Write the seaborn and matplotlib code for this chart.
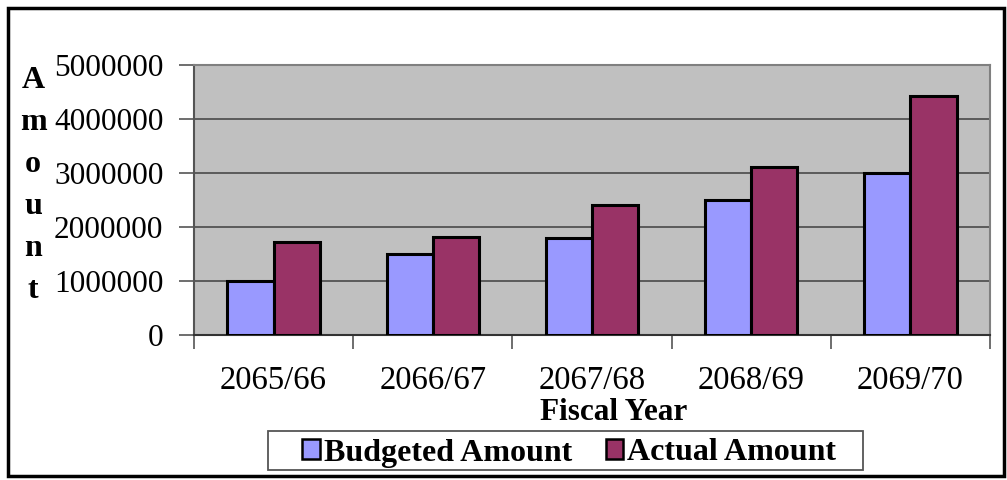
import matplotlib
matplotlib.use("Agg")
import matplotlib.pyplot as plt
import seaborn as sns
import pandas as pd
from matplotlib.patches import Rectangle, Patch

fiscal_years = ["2065/66", "2066/67", "2067/68", "2068/69", "2069/70"]
budgeted = [1000000, 1500000, 1800000, 2500000, 3000000]
actual = [1730000, 1810000, 2410000, 3110000, 4430000]
series_names = ["Budgeted Amount", "Actual Amount"]
series_colors = ["#9999FF", "#993366"]

df = pd.DataFrame({
    "Fiscal Year": fiscal_years * 2,
    "Amount": budgeted + actual,
    "Series": [series_names[0]] * len(fiscal_years) + [series_names[1]] * len(fiscal_years),
})

sns.set_theme(style="white")
plt.rcParams["font.family"] = ["Liberation Serif", "DejaVu Serif"]
plt.rcParams["text.color"] = "black"
plt.rcParams["xtick.labelcolor"] = "black"
plt.rcParams["ytick.labelcolor"] = "black"

W, H = 1007, 480
fig = plt.figure(figsize=(W / 100, H / 100), dpi=100)
ax = fig.add_axes([194 / W, 1 - 335 / H, (990 - 194) / W, (335 - 65) / H])

sns.barplot(data=df, x="Fiscal Year", y="Amount", hue="Series",
            palette=series_colors, width=0.58, edgecolor="black",
            linewidth=2.2, saturation=1, ax=ax, legend=False, zorder=3)

ax.set_facecolor("#C0C0C0")
ax.set_ylim(0, 5000000)
ax.set_xlim(-0.5, len(fiscal_years) - 0.5)
ax.set_yticks(range(0, 5000001, 1000000))
ax.set_yticklabels([str(v) for v in range(0, 5000001, 1000000)], fontsize=22.5)
ax.yaxis.grid(True, color="#4a4a4a", linewidth=1.2, zorder=1)
ax.set_axisbelow(True)
ax.tick_params(axis="y", direction="out", length=11, width=1.2, color="#555555",
               pad=11, left=True)

ax.set_xticks(range(len(fiscal_years)))
ax.set_xticklabels(fiscal_years, fontsize=23.5)
ax.set_xticks([i - 0.5 for i in range(len(fiscal_years) + 1)], minor=True)
ax.tick_params(axis="x", which="major", length=0, pad=22)
ax.tick_params(axis="x", which="minor", direction="out", length=10, width=1.2,
               color="#555555", bottom=True)

for side, sp in ax.spines.items():
    sp.set_visible(True)
    sp.set_color("#808080")
    sp.set_linewidth(1.5)
ax.spines["bottom"].set_color("#333333")
ax.spines["left"].set_color("#555555")

ax.set_xlabel("")
ax.set_ylabel("")

# Stacked vertical axis title
for i, ch in enumerate("Amount"):
    fig.text(33 / W, 1 - (80 + i * 42) / H, ch, fontsize=23, fontweight="bold",
             ha="center", va="center")

fig.text(614 / W, 1 - 412 / H, "Fiscal Year", fontsize=22.5, fontweight="bold",
         ha="center", va="center")

# Legend: frame drawn separately so its padding can be wider than the text
fig.patches.append(Rectangle((268 / W, 1 - 470 / H), (863 - 268) / W, (470 - 431) / H,
                             transform=fig.transFigure, facecolor="white",
                             edgecolor="#555555", linewidth=1.3, zorder=1))
handles = [Patch(facecolor=c, edgecolor="black", linewidth=1.8) for c in series_colors]
leg = fig.legend(handles, series_names, loc="center left",
                 bbox_to_anchor=(302 / W, 1 - 453 / H),
                 ncol=2, frameon=False, prop={"size": 23, "weight": "bold"},
                 handlelength=0.56, handleheight=0.56, handletextpad=0.12,
                 columnspacing=1.05, borderpad=0, borderaxespad=0)
leg.set_zorder(2)

fig.patches.append(Rectangle((8 / W, 4 / H), 996 / W, 468 / H, transform=fig.transFigure,
                             fill=False, edgecolor="black", linewidth=2.5))

fig.savefig("out.png", dpi=100)
